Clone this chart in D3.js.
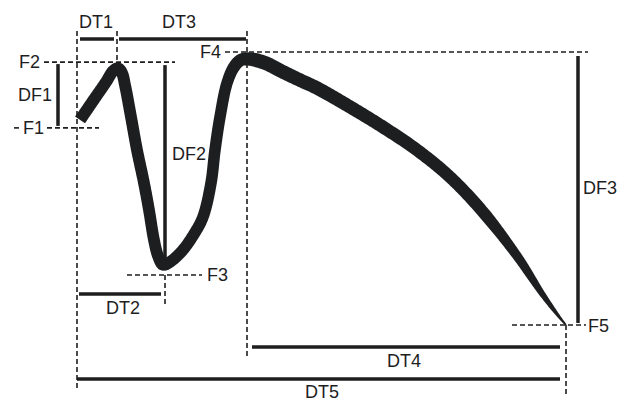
<!DOCTYPE html>
<html>
<head>
<meta charset="utf-8">
<script src="https://cdn.jsdelivr.net/npm/d3@7"></script>
<style>
  body { margin: 0; background: #fff; }
  svg { display: block; }
  text { font-family: "Liberation Sans", Arial, sans-serif; font-size: 18px; fill: #1e1e1e; }
</style>
</head>
<body>
<div id="chart"></div>
<script>
// force-time trace (time in ms, force in % of peak)
var times = [6, 32, 58, 72, 82, 90, 96, 108, 120, 134, 144, 154, 162, 172,
             186, 210, 234, 252, 268, 276, 286, 300, 314, 328, 346,
             376, 412, 446, 480, 546, 612, 680, 746, 812, 880, 932, 966, 978];
var forces = [75.1, 82.1, 89.0, 93.0, 94.1, 92.3, 87.9, 76.2, 64.1, 52.0, 42.1, 31.1, 25.3, 22.0,
              23.1, 27.1, 33.3, 39.6, 52.0, 64.1, 76.2, 88.6, 94.5, 97.1, 97.4,
              96.0, 92.7, 89.7, 86.8, 79.9, 72.5, 64.1, 54.2, 41.4, 25.3, 11.0, 2.6, 0];

// key points
var eventNames = ["F1", "F2", "F3", "F4", "F5"];
var eventTimes = [0, 80, 176, 340, 978];
var eventForces = [72.2, 96.3, 18.3, 100, 0];

// interval labels
var timeIntervals = ["DT1", "DT2", "DT3", "DT4", "DT5"];
var forceIntervals = ["DF1", "DF2", "DF3"];

var width = 623;
var height = 401;
var ink = '#1e1e1e';

var svg = d3.select('#chart').append('svg')
    .attr('width', width)
    .attr('height', height);

var xScale = d3.scaleLinear().domain([0, 980]).range([77, 567]);
var yScale = d3.scaleLinear().domain([0, 100]).range([325, 52]);

var ex = function(i) { return xScale(eventTimes[i]); };
var ey = function(i) { return yScale(eventForces[i]); };

// ---- dashed guide lines
var dashed = [
    // horizontals
    {x1: 44, x2: 175, y1: ey(1), y2: ey(1)},
    {x1: 47, x2: 99, y1: ey(0), y2: ey(0)},
    {x1: 14, x2: 21, y1: ey(0), y2: ey(0)},
    {x1: 127, x2: 202, y1: ey(2), y2: ey(2)},
    {x1: 225, x2: 588, y1: ey(3), y2: ey(3)},
    {x1: 512, x2: 586, y1: ey(4), y2: ey(4)},
    // verticals
    {x1: ex(0), x2: ex(0), y1: 31, y2: 388},
    {x1: ex(1), x2: ex(1), y1: 31, y2: ey(1)},
    {x1: ex(2), x2: ex(2), y1: ey(2), y2: 307},
    {x1: ex(3), x2: ex(3), y1: 31, y2: 357},
    {x1: ex(4), x2: ex(4), y1: ey(4), y2: 396}
];

svg.selectAll('line.guide')
    .data(dashed)
    .enter()
    .append('line')
    .attr('class', 'guide')
    .attr('x1', function(d) { return d.x1; })
    .attr('x2', function(d) { return d.x2; })
    .attr('y1', function(d) { return d.y1; })
    .attr('y2', function(d) { return d.y2; })
    .attr('stroke', ink)
    .attr('stroke-width', 1.6)
    .attr('stroke-dasharray', '5,3');

// ---- solid measurement bars
var bars = [
    {name: timeIntervals[0], x1: ex(0) + 3, x2: ex(1) - 3, y1: 39, y2: 39, lx: 96, ly: 28},
    {name: timeIntervals[2], x1: ex(1) + 2, x2: ex(3) - 1, y1: 39, y2: 39, lx: 179, ly: 28},
    {name: timeIntervals[1], x1: ex(0) + 2, x2: ex(2) - 4, y1: 294, y2: 294, lx: 123, ly: 314},
    {name: timeIntervals[3], x1: ex(3) + 5, x2: ex(4) - 6, y1: 347, y2: 347, lx: 404, ly: 367},
    {name: timeIntervals[4], x1: ex(0), x2: ex(4) - 6, y1: 379, y2: 379, lx: 322, ly: 398},
    {name: forceIntervals[0], x1: 58, x2: 58, y1: ey(1) + 2, y2: ey(0) - 2, lx: 35, ly: 101},
    {name: forceIntervals[1], x1: ex(2), x2: ex(2), y1: ey(1) + 3, y2: ey(2) - 13, lx: 189, ly: 160},
    {name: forceIntervals[2], x1: 578, x2: 578, y1: ey(3) + 4, y2: ey(4) - 2, lx: 600, ly: 194}
];

svg.selectAll('line.bar')
    .data(bars)
    .enter()
    .append('line')
    .attr('class', 'bar')
    .attr('x1', function(d) { return d.x1; })
    .attr('x2', function(d) { return d.x2; })
    .attr('y1', function(d) { return d.y1; })
    .attr('y2', function(d) { return d.y2; })
    .attr('stroke', ink)
    .attr('stroke-width', 3.5);

svg.selectAll('text.bar-label')
    .data(bars)
    .enter()
    .append('text')
    .attr('class', 'bar-label')
    .attr('x', function(d) { return d.lx; })
    .attr('y', function(d) { return d.ly; })
    .attr('text-anchor', 'middle')
    .text(function(d) { return d.name; });

// ---- event labels
var eventLabelPos = [
    {x: 44, y: ey(0) + 6, anchor: 'end'},
    {x: 40, y: ey(1) + 6, anchor: 'end'},
    {x: 207, y: ey(2) + 6, anchor: 'start'},
    {x: 221, y: ey(3) + 6, anchor: 'end'},
    {x: 588, y: ey(4) + 7, anchor: 'start'}
];

svg.selectAll('text.event')
    .data(eventNames)
    .enter()
    .append('text')
    .attr('class', 'event')
    .attr('x', function(d, i) { return eventLabelPos[i].x; })
    .attr('y', function(d, i) { return eventLabelPos[i].y; })
    .attr('text-anchor', function(d, i) { return eventLabelPos[i].anchor; })
    .text(function(d) { return d; });

// ---- the trace, drawn as a band of varying thickness
var trace = times.map(function(t, i) { return [t, forces[i]]; });

var line = d3.line()
    .x(function(d) { return xScale(d[0]); })
    .y(function(d) { return yScale(d[1]); })
    .curve(d3.curveCatmullRom.alpha(0.5));

var guidePath = svg.append('path')
    .attr('d', line(trace))
    .attr('fill', 'none')
    .attr('stroke', 'none');

var thickness = d3.scaleLinear()
    .domain([0, 300, 360, 600, 820, 900, 950, 980])
    .range([12, 11.5, 14, 13, 12, 8.5, 4.5, 1.5])
    .clamp(true);

var node = guidePath.node();
var total = node.getTotalLength();
var n = 700;
var pts = d3.range(n + 1).map(function(i) {
    var p = node.getPointAtLength(total * i / n);
    return [p.x, p.y];
});

var upper = [];
var lower = [];
pts.forEach(function(p, i) {
    var a = pts[Math.max(0, i - 1)];
    var b = pts[Math.min(n, i + 1)];
    var dx = b[0] - a[0];
    var dy = b[1] - a[1];
    var len = Math.sqrt(dx * dx + dy * dy) || 1;
    var nx = -dy / len;
    var ny = dx / len;
    var w = thickness(xScale.invert(p[0])) / 2;
    upper.push([p[0] + nx * w, p[1] + ny * w]);
    lower.push([p[0] - nx * w, p[1] - ny * w]);
});

var band = upper.concat(lower.reverse());

svg.append('path')
    .attr('class', 'trace')
    .attr('d', d3.line()(band) + 'Z')
    .attr('fill', '#1d1e20');

guidePath.remove();
</script>
</body>
</html>
